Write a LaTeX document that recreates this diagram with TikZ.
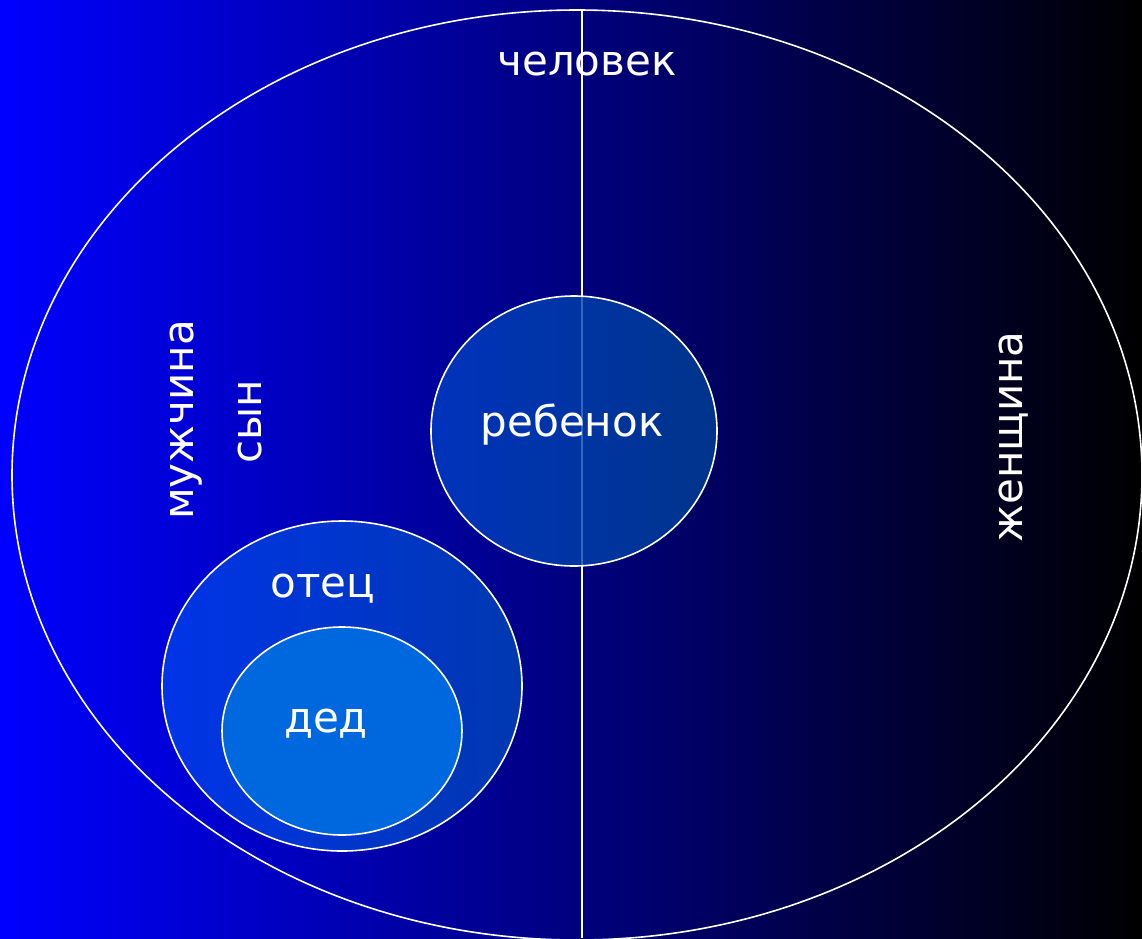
\documentclass[tikz,border=0pt]{standalone}
\usepackage{fontspec}
\setmainfont{DejaVu Sans}
\definecolor{kidl}{RGB}{0,64,196}
\definecolor{kidr}{RGB}{0,66,150}
\definecolor{dadl}{RGB}{0,52,232}
\definecolor{dadr}{RGB}{0,56,176}
\definecolor{grand}{RGB}{0,104,222}
\begin{document}
\begin{tikzpicture}[x=1pt, y=-1pt, line width=1.6pt,
  lbl/.style={text=white, inner sep=0pt, font=\fontsize{42}{48}\selectfont}]

\useasboundingbox (0,0) rectangle (1142,938);
\clip (0,0) rectangle (1142,938);
\shade[left color=blue, right color=black] (0,0) rectangle (1142,938);

\draw[white] (577,475) ellipse [x radius=565, y radius=465];
\coordinate (top) at (582,10);
\coordinate (bot) at (582,938);
\draw[white] (top) -- (bot);

\shade[draw=white, left color=kidl, right color=kidr, fill opacity=.8] (574,431) ellipse [x radius=143, y radius=135];
\shade[draw=white, left color=dadl, right color=dadr] (342,686) ellipse [x radius=180, y radius=165];
\draw[white, fill=grand] (342,731) ellipse [x radius=120, y radius=104];

\node[lbl] (human) at (587,64) {человек};
\node[lbl, rotate=90] (man) at (186,420) {мужчина};
\node[lbl, rotate=90] (son) at (250,422) {сын};
\node[lbl] (child) at (572,425) {ребенок};
\node[lbl, rotate=90] (woman) at (1014,437) {женщина};
\node[lbl] (father) at (323,589) {отец};
\node[lbl] (grandpa) at (326,724) {дед};
\end{tikzpicture}
\end{document}
